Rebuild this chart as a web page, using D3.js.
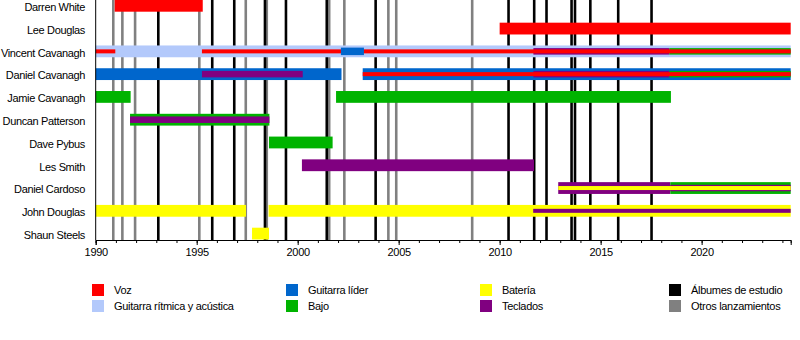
<!DOCTYPE html>
<html><head><meta charset="utf-8">
<script src="https://cdn.jsdelivr.net/npm/d3@7/dist/d3.min.js"></script>
<style>
body{margin:0;background:#fff;}
text{font-family:"Liberation Sans",Arial,sans-serif;}
</style></head>
<body><svg id="c" width="800" height="340"></svg>
<script>
// ---------- DATA ----------
const members = ["Darren White","Lee Douglas","Vincent Cavanagh","Daniel Cavanagh","Jamie Cavanagh",
  "Duncan Patterson","Dave Pybus","Les Smith","Daniel Cardoso","John Douglas","Shaun Steels"];
const roles = ["Voz","Guitarra rítmica y acústica","Guitarra líder","Bajo","Batería","Teclados"];
const roleColors = ["#ff0000","#b3c9fb","#0066cc","#00b300","#ffff00","#800080"];
const releaseTypes = ["Álbumes de estudio","Otros lanzamientos"];
const releaseColors = ["#000000","#808080"];
const startYear = 1990, endYear = 2024.41;
const studioAlbums = [1993.10,1995.77,1996.86,1998.38,1999.42,2001.44,2003.86,2010.44,2011.71,2012.32,2013.56,2013.73,2014.49,2015.87,2017.52];
const otherReleases = [1990.87,1991.32,1991.95,1995.13,1997.43,1998.47,2001.56,2002.31,2004.49,2004.88,2008.64];
const yearTicks = d3.range(1990, 2025);
const labelTicks = [1990,1995,2000,2005,2010,2015,2020];
// [member, role, from, till]  — main (full width) periods
const mainPeriods = [
  ["Darren White","Voz",1990.94,1995.30],
  ["Lee Douglas","Voz",2010.00,endYear],
  ["Vincent Cavanagh","Guitarra rítmica y acústica",1990,endYear],
  ["Daniel Cavanagh","Guitarra líder",1990,2002.17],
  ["Daniel Cavanagh","Guitarra líder",2003.22,endYear],
  ["Jamie Cavanagh","Bajo",1990,1991.73],
  ["Jamie Cavanagh","Bajo",2001.90,2018.48],
  ["Duncan Patterson","Bajo",1991.70,1998.60],
  ["Dave Pybus","Bajo",1998.58,2001.73],
  ["Les Smith","Teclados",2000.21,2011.70],
  ["Daniel Cardoso","Teclados",2012.90,2018.45],
  ["Daniel Cardoso","Bajo",2018.45,endYear],
  ["John Douglas","Batería",1990,1997.44],
  ["John Douglas","Batería",1998.56,endYear],
  ["Shaun Steels","Batería",1997.74,1998.58]
];
// secondary periods (medium width)
const secondPeriods = [
  ["Vincent Cavanagh","Teclados",2011.67,2018.40],
  ["Vincent Cavanagh","Bajo",2018.40,endYear],
  ["Daniel Cavanagh","Teclados",1995.26,2000.25],
  ["Daniel Cavanagh","Teclados",2011.67,2018.40],
  ["Daniel Cavanagh","Bajo",2018.40,endYear],
  ["Duncan Patterson","Teclados",1991.70,1998.60],
  ["Daniel Cardoso","Teclados",2018.45,endYear]
];
// tertiary periods (thin)
const thirdPeriods = [
  ["Vincent Cavanagh","Voz",1990,1990.97],
  ["Vincent Cavanagh","Voz",1995.26,endYear],
  ["Daniel Cavanagh","Voz",2003.22,endYear],
  ["John Douglas","Teclados",2011.66,endYear],
  ["Daniel Cardoso","Batería",2012.90,endYear]
];
// medium-width periods drawn on top
const overPeriods = [
  ["Vincent Cavanagh","Guitarra líder",2002.14,2003.28]
];

// ---------- CHART ----------
const svg = d3.select("#c");
const x = d3.scaleLinear().domain([startYear, endYear]).range([95.7, 790.7]);
const y = d3.scalePoint().domain(members).range([5.8, 233.6]);
const color = d3.scaleOrdinal().domain(roles).range(roleColors);
const relColor = d3.scaleOrdinal().domain(releaseTypes).range(releaseColors);
const axisY = 240;

// release lines
const rel = svg.append("g");
[[otherReleases, releaseTypes[1]], [studioAlbums, releaseTypes[0]]].forEach(([arr, t]) => {
  rel.selectAll(null).data(arr).enter().append("line")
    .attr("x1", d => x(d)).attr("x2", d => x(d))
    .attr("y1", 0).attr("y2", axisY)
    .attr("stroke", relColor(t)).attr("stroke-width", 2.6);
});

// bars
function drawBars(data, h) {
  svg.append("g").selectAll("rect").data(data).enter().append("rect")
    .attr("x", d => x(d[2])).attr("width", d => x(d[3]) - x(d[2]))
    .attr("y", d => y(d[0]) - h / 2).attr("height", h)
    .attr("fill", d => color(d[1]));
}
drawBars(mainPeriods, 11.8);
drawBars(secondPeriods, 6.5);
drawBars(thirdPeriods, 4);
drawBars(overPeriods, 7.5);

// left frame line
svg.append("line").attr("x1", x(startYear)).attr("x2", x(startYear))
  .attr("y1", 0).attr("y2", axisY).attr("stroke", "#000").attr("stroke-width", 1);

// member labels
svg.append("g").selectAll("text").data(members).enter().append("text")
  .attr("x", 85).attr("y", d => y(d) + 1.5).attr("dy", "0.35em")
  .attr("text-anchor", "end").attr("font-size", 11).attr("letter-spacing", "-0.35px").attr("fill", "#000")
  .text(d => d);

// axis
const minor = svg.append("g").attr("transform", `translate(0,${axisY})`)
  .call(d3.axisBottom(x).tickValues(yearTicks).tickSize(3).tickFormat(""));
const major = svg.append("g").attr("transform", `translate(0,${axisY})`)
  .call(d3.axisBottom(x).tickValues(labelTicks).tickSize(5).tickPadding(3).tickFormat(d3.format("d")));
[minor, major].forEach(g => {
  g.select(".domain").attr("stroke", "#000");
  g.selectAll(".tick line").attr("stroke", "#000");
  g.selectAll("text").attr("font-size", 11).attr("fill", "#000").attr("letter-spacing", "-0.3px")
    .attr("font-family", '"Liberation Sans",Arial,sans-serif');
});

// legend
const legendItems = [
  [roles[0], color(roles[0])], [roles[1], color(roles[1])],
  [roles[2], color(roles[2])], [roles[3], color(roles[3])],
  [roles[4], color(roles[4])], [roles[5], color(roles[5])],
  [releaseTypes[0], relColor(releaseTypes[0])], [releaseTypes[1], relColor(releaseTypes[1])]
];
const colX = [92, 286, 480, 669];
const rowY = [284, 300];
const lg = svg.append("g");
legendItems.forEach((d, i) => {
  const cx = colX[Math.floor(i / 2)], cy = rowY[i % 2];
  lg.append("rect").attr("x", cx).attr("y", cy).attr("width", 12).attr("height", 12).attr("fill", d[1]);
  lg.append("text").attr("x", cx + 22).attr("y", cy + 6).attr("dy", "0.35em")
    .attr("font-size", 11).attr("letter-spacing", "-0.3px").attr("fill", "#000").text(d[0]);
});
</script></body></html>
